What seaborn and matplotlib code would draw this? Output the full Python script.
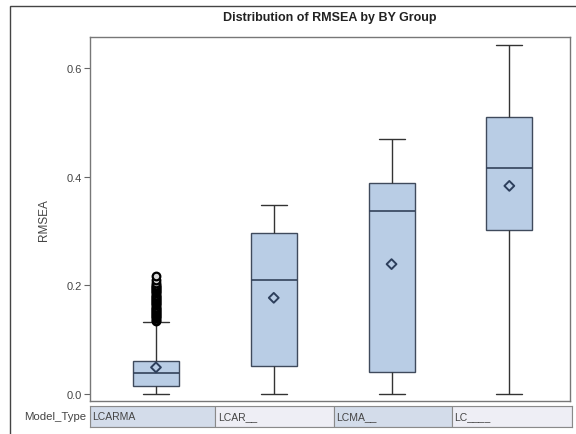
import matplotlib
matplotlib.use("Agg")
import matplotlib.pyplot as plt
from matplotlib.patches import Rectangle
import numpy as np
import pandas as pd
import seaborn as sns

# Five-number summaries of RMSEA per model type
model_types = ["LCARMA", "LCAR__", "LCMA__", "LC____"]
rmsea_min = [0.000, 0.000, 0.000, 0.000]
rmsea_q1 = [0.014, 0.051, 0.040, 0.301]
rmsea_median = [0.039, 0.210, 0.337, 0.415]
rmsea_q3 = [0.061, 0.296, 0.388, 0.510]
rmsea_max = [0.133, 0.348, 0.469, 0.643]
rmsea_mean = [0.049, 0.177, 0.239, 0.383]

# Outlying RMSEA values of the LCARMA group
lcarma_outliers = [0.135, 0.137, 0.139, 0.141, 0.143, 0.145, 0.147, 0.149,
                   0.151, 0.153, 0.155, 0.157, 0.159, 0.161, 0.163, 0.165,
                   0.167, 0.169, 0.171, 0.173, 0.175, 0.177, 0.179, 0.181,
                   0.183, 0.185, 0.187, 0.189, 0.191, 0.193, 0.195, 0.197,
                   0.199, 0.201, 0.204, 0.209, 0.218]

y_ticks = [0.0, 0.2, 0.4, 0.6]

sns.set_theme(style="white")
plt.rcParams["font.family"] = ["Liberation Sans", "DejaVu Sans"]

rows = []
for i, m in enumerate(model_types):
    for v in (rmsea_min[i], rmsea_q1[i], rmsea_median[i], rmsea_q3[i], rmsea_max[i]):
        rows.append({"Model_Type": m, "RMSEA": v})
df = pd.DataFrame(rows)
means_df = pd.DataFrame({"Model_Type": model_types, "RMSEA": rmsea_mean})
out_df = pd.DataFrame({"Model_Type": [model_types[0]] * len(lcarma_outliers),
                       "RMSEA": lcarma_outliers})

W, H = 576, 435
fig = plt.figure(figsize=(W / 100, H / 100), dpi=100)
fig.patch.set_facecolor("white")

# outer graph border
fig.patches.append(Rectangle((10 / W, -0.05), 1.2, 1 - 7 / H + 0.05,
                             transform=fig.transFigure, fill=False,
                             edgecolor="#444444", linewidth=1.0))

ax = fig.add_axes([90 / W, 1 - 402 / H, 480 / W, 364 / H])
box_fill = "#b9cde5"
edge = "#3f4a5c"
sns.boxplot(data=df, x="Model_Type", y="RMSEA", order=model_types,
            whis=(0, 100), width=0.39, color=box_fill, saturation=1,
            linewidth=1.0, linecolor=edge, showfliers=False, ax=ax,
            medianprops={"color": "#33425a", "linewidth": 1.2},
            whiskerprops={"color": "#333333"},
            capprops={"color": "#333333"})
for p in ax.patches:
    p.set_facecolor(box_fill)
    p.set_edgecolor(edge)
# slightly wider whisker caps
for ln in ax.lines:
    x = ln.get_xdata()
    y = ln.get_ydata()
    if len(x) == 2 and x[0] != x[1] and y[0] == y[1]:
        xm = (x[0] + x[1]) / 2
        half = abs(x[1] - x[0]) / 2
        if half < 0.15:
            ln.set_xdata([xm - 0.11, xm + 0.11])

sns.stripplot(data=out_df, x="Model_Type", y="RMSEA", order=model_types,
              jitter=False, marker="o", size=5.5, color="#d8d8d8",
              edgecolor="black", linewidth=1.6, ax=ax, zorder=4)
sns.stripplot(data=means_df, x="Model_Type", y="RMSEA", order=model_types,
              jitter=False, marker="D", size=5, color="none",
              edgecolor="#2d3f5c", linewidth=1.4, ax=ax, zorder=5)

ax.set_xlim(-0.56, 3.515)
ax.set_ylim(-0.0129, 0.657)
ax.set_yticks(y_ticks)
ax.set_yticklabels([f"{t:.1f}" for t in y_ticks])
ax.set_xticks([])
ax.set_xlabel("")
ax.set_ylabel("RMSEA", fontsize=8.5, color="#444444", labelpad=12)
ax.tick_params(axis="y", direction="out", length=4, width=0.8,
               colors="#666666", labelsize=8, labelcolor="#444444", left=True, pad=2)
for s in ax.spines.values():
    s.set_color("#777777")
    s.set_linewidth(1.0)
ax.set_facecolor("white")

fig.text(330 / W, 1 - 18 / H, "Distribution of RMSEA by BY Group",
         ha="center", va="center", fontsize=9, fontweight="bold", color="#222222")

# category table row under the plot
tax = fig.add_axes([90 / W, 1 - 428 / H, 482 / W, 21 / H])
tax.set_xlim(ax.get_xlim())
tax.set_ylim(0, 1)
cell_colors = ["#d3dcea", "#eeeef5", "#d3dcea", "#eeeef5"]
bounds = [ax.get_xlim()[0], 0.5, 1.5, 2.5, ax.get_xlim()[1]]
for i, m in enumerate(model_types):
    tax.add_patch(Rectangle((bounds[i], 0), bounds[i + 1] - bounds[i], 1,
                            facecolor=cell_colors[i], edgecolor="#8a8a8a",
                            linewidth=0.8))
    tax.text(bounds[i] + 0.02, 0.5, m, ha="left", va="center",
             fontsize=7.5, color="#444444")
tax.set_xticks([])
tax.set_yticks([])
for s in tax.spines.values():
    s.set_color("#8a8a8a")
    s.set_linewidth(0.8)
fig.text(86 / W, 1 - 417 / H, "Model_Type", ha="right", va="center",
         fontsize=8.2, color="#444444")

fig.savefig("out.png", dpi=100)
